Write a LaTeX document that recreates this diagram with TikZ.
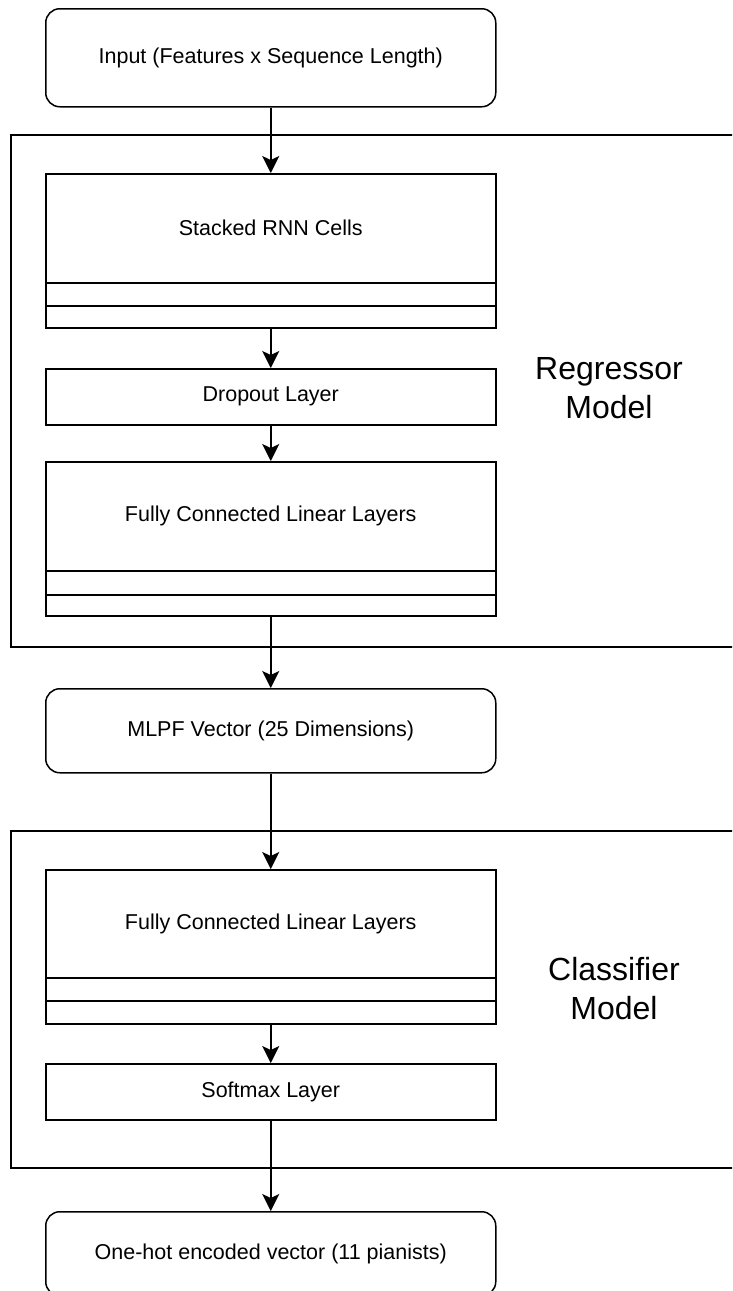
\documentclass[tikz,border=0pt]{standalone}
\usepackage{fontspec}
\setmainfont{Liberation Sans}
\usetikzlibrary{arrows.meta,positioning}

\tikzset{
  box/.style={draw=black, line width=1.5pt, fill=white, rectangle, inner sep=0pt,
    anchor=north west, minimum width=450pt, font=\fontsize{21.5}{24}\selectfont},
  roundbox/.style={box, rounded corners=14pt},
  flow/.style={draw=black, line width=1.5pt, -{Stealth[length=17pt,width=17pt,inset=4pt]}},
  frame/.style={draw=black, line width=1.5pt},
  modellabel/.style={align=center, font=\fontsize{32}{39}\selectfont}
}

\begin{document}
\begin{tikzpicture}[x=1pt,y=-1pt]
  \useasboundingbox (0,0) rectangle (732,1291);
  \clip (0,0) rectangle (732,1291);

  % model frames (open on the right)
  \draw[frame] (745,135) -- (11,135) -- (11,647) -- (745,647);
  \draw[frame] (745,831) -- (11,831) -- (11,1168) -- (745,1168);

  % input
  \node[roundbox, minimum height=98pt] (input) at (45,8) {Input (Features x Sequence Length)};

  % regressor model
  \node[box, minimum height=109pt] (rnn) at (45,173) {Stacked RNN Cells};
  \node[box, minimum height=23pt] (rnnA) at (45,282) {};
  \node[box, minimum height=22pt] (rnnB) at (45,305) {};
  \node[box, minimum height=56pt] (drop) at (45,368) {Dropout Layer};
  \node[box, minimum height=109pt] (fc) at (45,461) {Fully Connected Linear Layers};
  \node[box, minimum height=24pt] (fcA) at (45,570) {};
  \node[box, minimum height=21pt] (fcB) at (45,594) {};
  \node[modellabel] (reglabel) at (609,388) {Regressor\\Model};

  % intermediate vector
  \node[roundbox, minimum height=84pt] (mlpf) at (45,688) {MLPF Vector (25 Dimensions)};

  % classifier model
  \node[box, minimum height=108pt] (cfc) at (45,869) {Fully Connected Linear Layers};
  \node[box, minimum height=23pt] (cfcA) at (45,977) {};
  \node[box, minimum height=23pt] (cfcB) at (45,1000) {};
  \node[box, minimum height=56pt] (soft) at (45,1063) {Softmax Layer};
  \node[modellabel] (clslabel) at (614,989) {Classifier\\Model};

  % output
  \node[roundbox, minimum height=84pt] (onehot) at (45,1211) {One-hot encoded vector (11 pianists)};

  % connectors
  \draw[flow] (input.south) -- (rnn.north);
  \draw[flow] (rnnB.south) -- (drop.north);
  \draw[flow] (drop.south) -- (fc.north);
  \draw[flow] (fcB.south) -- (mlpf.north);
  \draw[flow] (mlpf.south) -- (cfc.north);
  \draw[flow] (cfcB.south) -- (soft.north);
  \draw[flow] (soft.south) -- (onehot.north);
\end{tikzpicture}
\end{document}
